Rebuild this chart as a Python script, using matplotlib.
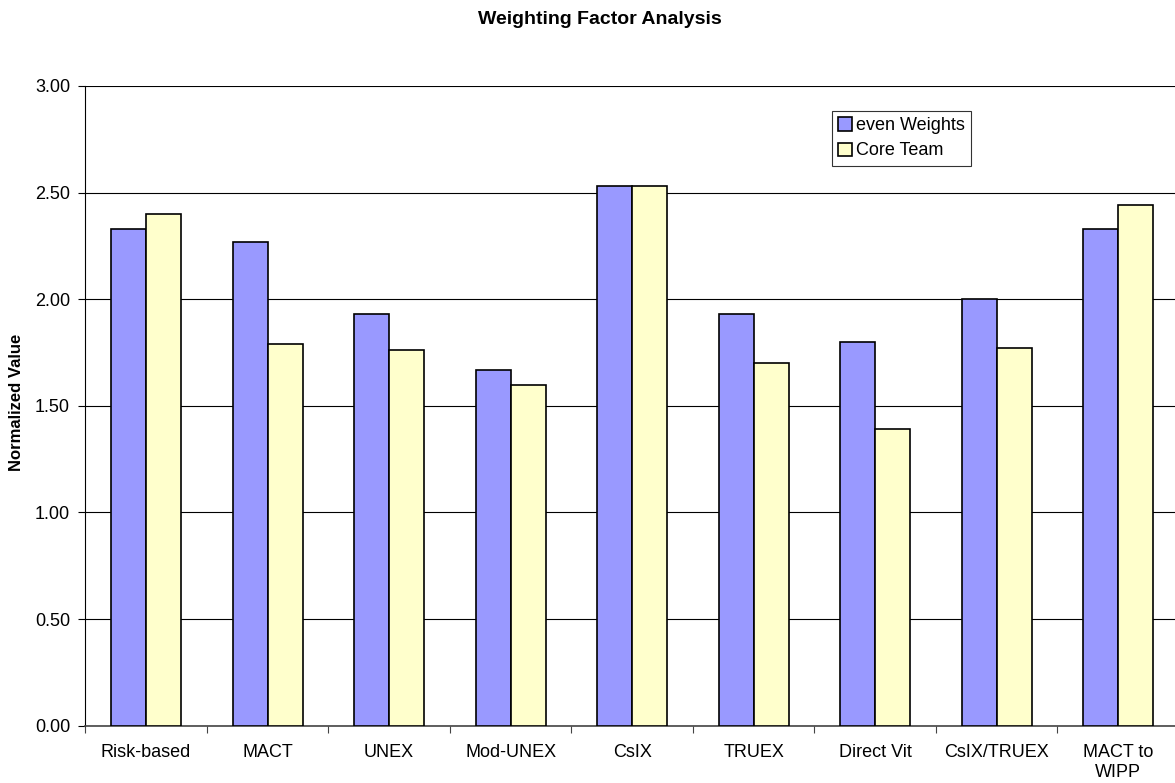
import matplotlib.pyplot as plt
import numpy as np

# Data
categories = ["Risk-based", "MACT", "UNEX", "Mod-UNEX", "CsIX", "TRUEX",
              "Direct Vit", "CsIX/TRUEX", "MACT to\nWIPP"]
evenWeights = [2.33, 2.27, 1.93, 1.67, 2.53, 1.93, 1.80, 2.00, 2.33]
coreTeam = [2.40, 1.79, 1.76, 1.60, 2.53, 1.70, 1.39, 1.77, 2.44]
yTicks = [0.0, 0.5, 1.0, 1.5, 2.0, 2.5, 3.0]

plt.rcParams['font.family'] = ['Liberation Sans', 'DejaVu Sans']

W, H = 1175, 783
fig = plt.figure(figsize=(W / 100, H / 100), dpi=100)
# plot area: x 85 -> 1179 px (runs past the right edge), y 86 -> 726 px
left, right, top, bottom = 85.3, 1179.0, 86.0, 725.7
ax = fig.add_axes([left / W, 1 - bottom / H, (right - left) / W, (bottom - top) / H])

x = np.arange(len(categories))
barW = 0.288
ax.bar(x - barW / 2, evenWeights, barW, color="#9999ff", edgecolor="black",
       linewidth=1.2, label="even Weights", zorder=3)
ax.bar(x + barW / 2, coreTeam, barW, color="#ffffcc", edgecolor="black",
       linewidth=1.2, label="Core Team", zorder=3)

ax.set_xlim(-0.5, len(categories) - 0.5)
ax.set_ylim(0, 3.0)
ax.set_yticks(yTicks)
ax.set_yticklabels(["%.2f" % v for v in yTicks], fontsize=13)
ax.yaxis.grid(True, color="black", linewidth=0.8, zorder=0)

ax.set_xticks(np.arange(len(categories) + 1) - 0.5, minor=False)
ax.set_xticklabels([])
ax.set_xticks(x, minor=True)
ax.set_xticklabels(categories, minor=True, fontsize=13, linespacing=1.25)
ax.tick_params(axis="x", which="minor", length=0, pad=13)
ax.tick_params(axis="x", which="major", length=5, direction="out", color="#444444")
ax.tick_params(axis="y", length=5, direction="out", pad=6)

for s in ["top", "right"]:
    ax.spines[s].set_visible(False)
ax.spines["left"].set_color("black")
ax.spines["bottom"].set_color("#444444")
ax.spines["bottom"].set_linewidth(1.2)

fig.text(17 / W, 1 - 402 / H, "Normalized Value", rotation=90, ha="center", va="center",
         fontsize=12, fontweight="bold")
fig.text(600 / W, 1 - 20 / H, "Weighting Factor Analysis", ha="center", va="center",
         fontsize=14, fontweight="bold")

leg = ax.legend(loc="upper left", bbox_to_anchor=((831.7 - left) / (right - left), 1 - (111 - top) / (bottom - top)),
                fontsize=13, frameon=True, fancybox=False, edgecolor="black",
                handlelength=0.75, handleheight=0.75, handletextpad=0.25,
                borderpad=0.35, labelspacing=0.45, borderaxespad=0)
leg.get_frame().set_linewidth(0.8)

fig.savefig("out.png", dpi=100)
